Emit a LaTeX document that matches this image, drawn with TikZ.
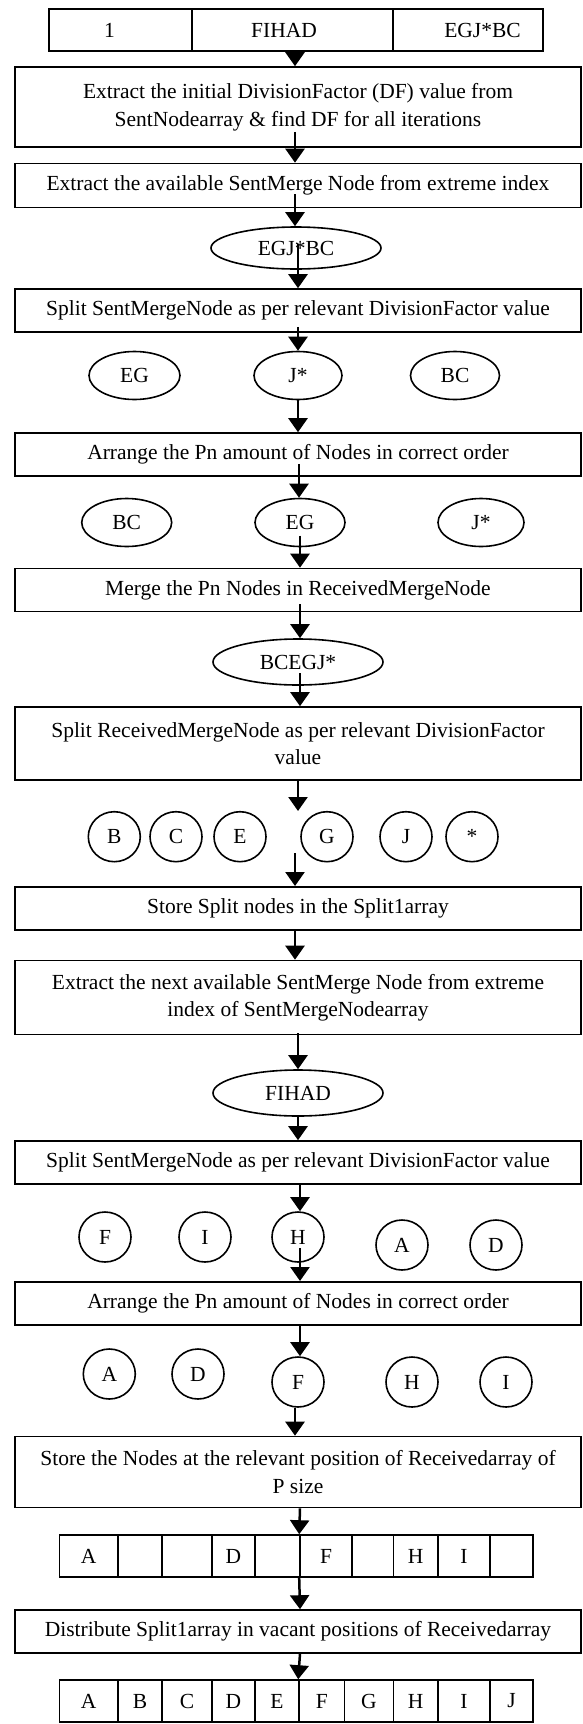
\documentclass[tikz,border=0pt]{standalone}
\usepackage{fontspec}
\setmainfont{Liberation Serif}
\usetikzlibrary{arrows.meta,shapes.geometric}
\begin{document}
\begin{tikzpicture}[x=1pt,y=-1pt,
  every node/.style={font=\fontsize{21.5}{27.5}\selectfont, inner sep=0pt},
  box/.style={draw, line width=1.6pt, minimum width=566pt, align=center},
  cell/.style={draw, line width=1.6pt, minimum height=42pt},
  oval/.style={draw, ellipse, line width=1.6pt},
  circ/.style={draw, ellipse, line width=1.6pt, minimum width=52pt, minimum height=50pt},
  arr/.style={line width=2.5pt, -{Triangle[width=19pt,length=14pt]}}
]
\useasboundingbox (0,0) rectangle (582,1724);

% top table
\node[cell, minimum width=143pt] (t1) at (120.5,30) {\hspace*{-22pt}1};
\node[cell, minimum width=201pt] (t2) at (292.5,30) {\hspace*{-17pt}FIHAD};
\node[cell, minimum width=150pt] (t3) at (468,30) {\hspace*{29pt}EGJ*BC};

\node[box, minimum height=80pt] (b1) at (298,107) {Extract the initial DivisionFactor (DF) value from\\SentNodearray \& find DF for all iterations};
\node[box, minimum height=44pt] (b2) at (298,185.5) {Extract the available SentMerge Node from extreme index};
\node[oval, minimum width=170pt, minimum height=42pt] (e1) at (296,248) {EGJ*BC};
\node[box, minimum height=43pt] (b3) at (298,310.5) {Split SentMergeNode as per relevant DivisionFactor value};

\node[oval, minimum width=91pt, minimum height=48pt] (r1a) at (134.5,375.5) {EG};
\node[oval, minimum width=88pt, minimum height=48pt] (r1b) at (298,375.5) {J*};
\node[oval, minimum width=89pt, minimum height=48pt] (r1c) at (455,375.5) {BC};

\node[box, minimum height=43pt] (b4) at (298,454.5) {Arrange the Pn amount of Nodes in correct order};

\node[oval, minimum width=90pt, minimum height=48pt] (r2a) at (126.7,522.5) {BC};
\node[oval, minimum width=90pt, minimum height=48pt] (r2b) at (300,522.5) {EG};
\node[oval, minimum width=86pt, minimum height=48pt] (r2c) at (481,522.5) {J*};

\node[box, minimum height=43pt] (b5) at (298,590) {Merge the Pn Nodes in ReceivedMergeNode};
\node[oval, minimum width=170pt, minimum height=46pt] (e2) at (298,662) {BCEGJ*};
\node[box, minimum height=73pt] (b6) at (298,743.5) {Split ReceivedMergeNode as per relevant DivisionFactor\\value};

\node[circ] (cB) at (114.3,836.7) {B};
\node[circ] (cC) at (176,836.7) {C};
\node[circ] (cE) at (240,836.7) {E};
\node[circ] (cG) at (327,836.7) {G};
\node[circ] (cJ) at (406,836.7) {J};
\node[circ] (cS) at (472,836.7) {*};
\coordinate (k1) at (298,811);
\coordinate (k2) at (295,853);

\node[box, minimum height=43pt] (b7) at (298,908.3) {Store Split nodes in the Split1array};
\node[box, minimum height=74pt] (b8) at (298,997.5) {Extract the next available SentMerge Node from extreme\\index of SentMergeNodearray};
\node[oval, minimum width=170pt, minimum height=46pt] (e3) at (298,1093) {FIHAD};
\node[box, minimum height=43pt] (b9) at (298,1162.5) {Split SentMergeNode as per relevant DivisionFactor value};

\node[circ] (r3f) at (105,1237) {F};
\node[circ] (r3i) at (205,1237) {I};
\node[circ] (r3h) at (298,1237) {H};
\node[circ] (r3a) at (402,1245) {A};
\node[circ] (r3d) at (496,1245) {D};

\node[box, minimum height=43pt] (b10) at (298,1303.3) {Arrange the Pn amount of Nodes in correct order};

\node[circ] (r4a) at (109.3,1374) {A};
\node[circ] (r4d) at (198,1374) {D};
\node[circ] (r4f) at (298,1382) {F};
\node[circ] (r4h) at (412,1382) {H};
\node[circ] (r4i) at (506,1382) {I};

\node[box, minimum height=71pt] (b11) at (298,1472) {Store the Nodes at the relevant position of Receivedarray of\\P size};

\foreach \l/\r/\t [count=\i] in {59.4/118/A, 118/162/, 162/212/, 212/255/D, 255/300/, 300/352/F, 352/393.5/, 393.5/438/H, 438/490/I, 490/532.7/}
  \node[cell, minimum width={(\r-\l)*1pt}] (a1-\i) at ({(\l+\r)/2},1556) {\t};

\node[box, minimum height=43pt] (b12) at (298,1631.5) {Distribute Split1array in vacant positions of Receivedarray};

\foreach \l/\r/\t [count=\i] in {59.4/118/A, 118/162/B, 162/212/C, 212/255/D, 255/299/E, 299/344.5/F, 344.5/393.5/G, 393.5/438/H, 438/490/I, 490/533/J}
  \node[cell, minimum width={(\r-\l)*1pt}] (a2-\i) at ({(\l+\r)/2},1701) {\t};

% connectors
\draw[arr] ([xshift=2.5pt]t2.south) -- ([xshift=-3pt]b1.north);
\draw[arr] ([xshift=-3pt,yshift=16pt]b1.south) -- ([xshift=-3pt]b2.north);
\draw[arr] ([xshift=-3pt,yshift=14pt]b2.south) -- ([xshift=-1pt]e1.north);
\draw[arr] ([xshift=2pt,yshift=4pt]e1.center) -- (b3.north);
\draw[arr] ([yshift=6pt]b3.south) -- (r1b.north);
\draw[arr] (r1b.south) -- (b4.north);
\draw[arr] ([xshift=1pt,yshift=13pt]b4.south) -- ([xshift=-1pt]r2b.north);
\draw[arr] ([yshift=-13pt]r2b.center) -- ([xshift=2pt]b5.north);
\draw[arr] ([xshift=2pt,yshift=8pt]b5.south) -- ([xshift=2pt]e2.north);
\draw[arr] ([xshift=2pt,yshift=-11pt]e2.center) -- ([xshift=2pt]b6.north);
\draw[arr] (b6.south) -- (k1);
\draw[arr] (k2) -- ([xshift=-3pt]b7.north);
\draw[arr] ([xshift=-3pt]b7.south) -- ([xshift=-3pt]b8.north);
\draw[arr] ([yshift=2pt]b8.south) -- (e3.north);
\draw[arr] (e3.south) -- (b9.north);
\draw[arr] ([xshift=2pt]b9.south) -- ([xshift=2pt]r3h.north);
\draw[arr] ([xshift=2pt,yshift=-11pt]r3h.center) -- ([xshift=2pt]b10.north);
\draw[arr] ([xshift=2pt]b10.south) -- ([xshift=2pt]r4f.north);
\draw[arr] ([xshift=-3pt]r4f.south) -- ([xshift=-3pt]b11.north);
\draw[arr] ([xshift=2pt]b11.south) -- (a1-6.north west);
\draw[arr] (a1-6.south west) -- ([xshift=2pt]b12.north);
\draw[arr] ([xshift=2pt]b12.south) -- (a2-6.north west);
\end{tikzpicture}
\end{document}
